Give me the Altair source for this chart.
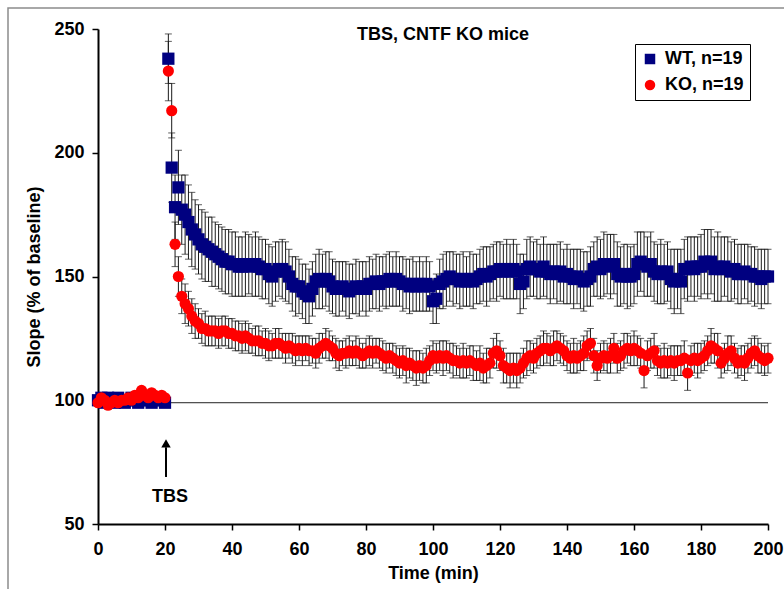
import altair as alt
import pandas as pd

# ---- data ----
time_min = [
    0, 1, 2, 3, 4, 5, 6, 7, 8, 9, 10, 11, 12, 13, 14, 15, 16, 17, 18, 19, 20,
    21, 22, 23, 24, 25, 26, 27, 28, 29, 30, 31, 32, 33, 34, 35, 36, 37, 38, 39, 40,
    41, 42, 43, 44, 45, 46, 47, 48, 49, 50, 51, 52, 53, 54, 55, 56, 57, 58, 59, 60,
    61, 62, 63, 64, 65, 66, 67, 68, 69, 70, 71, 72, 73, 74, 75, 76, 77, 78, 79, 80,
    81, 82, 83, 84, 85, 86, 87, 88, 89, 90, 91, 92, 93, 94, 95, 96, 97, 98, 99, 100,
    101, 102, 103, 104, 105, 106, 107, 108, 109, 110, 111, 112, 113, 114, 115, 116, 117, 118, 119, 120,
    121, 122, 123, 124, 125, 126, 127, 128, 129, 130, 131, 132, 133, 134, 135, 136, 137, 138, 139, 140,
    141, 142, 143, 144, 145, 146, 147, 148, 149, 150, 151, 152, 153, 154, 155, 156, 157, 158, 159, 160,
    161, 162, 163, 164, 165, 166, 167, 168, 169, 170, 171, 172, 173, 174, 175, 176, 177, 178, 179, 180,
    181, 182, 183, 184, 185, 186, 187, 188, 189, 190, 191, 192, 193, 194, 195, 196, 197, 198, 199, 200,
]

wt_mean = [
    100, 101, 99, 101, 100, 99, 101, 100, 99, 100, 101, 100, 99, 100, 101, 100, 99, 100, 101, 100, 99,
    238, 194, 178, 186, 177, 175, 172, 169, 167, 165, 163, 162, 161, 160, 159, 158, 157, 156, 156, 155,
    155, 154, 154, 155, 155, 154, 155, 154, 153, 153, 151, 150, 152, 153, 153, 152, 150, 147, 146, 146,
    144, 143, 142, 145, 148, 149, 148, 149, 148, 146, 145, 145, 146, 145, 144, 145, 146, 145, 146, 145,
    147, 147, 148, 147, 148, 148, 149, 148, 149, 148, 147, 147, 146, 147, 146, 147, 146, 147, 146, 140,
    141, 147, 148, 149, 150, 149, 149, 148, 149, 148, 149, 148, 149, 150, 151, 150, 151, 152, 152, 153,
    152, 153, 152, 153, 152, 147, 148, 153, 154, 153, 153, 152, 154, 152, 151, 152, 151, 152, 150, 151,
    150, 149, 150, 149, 148, 149, 150, 153, 154, 153, 155, 155, 154, 155, 151, 150, 151, 150, 150, 151,
    155, 156, 155, 154, 155, 152, 151, 152, 151, 152, 149, 148, 149, 148, 153, 153, 154, 153, 154, 154,
    156, 155, 156, 153, 154, 153, 154, 153, 152, 153, 151, 151, 152, 151, 151, 150, 150, 149, 150, 150,
]

wt_sem = [
    1.5, 1.2, 1.0, 1.3, 1.1, 1.0, 1.2, 1.1, 0.9, 1.0, 1.2, 1.1, 1.0, 1.3, 1.2, 1.0, 1.1, 1.2, 1.0, 1.1, 1.3,
    10, 14, 13, 15, 14, 16, 15, 15, 14, 14, 14, 14, 13, 14, 13, 13, 13, 13, 13, 13,
    13, 12, 12, 13, 12, 12, 13, 12, 12, 12, 12, 12, 12, 11, 12, 12, 11, 11, 12, 11,
    11, 12, 11, 11, 11, 12, 11, 11, 12, 11, 11, 11, 10, 11, 11, 10, 11, 11, 10, 11,
    11, 10, 11, 11, 10, 11, 11, 10, 11, 10, 11, 10, 11, 11, 10, 11, 10, 11, 10, 9,
    10, 10, 11, 11, 10, 11, 10, 11, 11, 10, 11, 11, 10, 11, 11, 12, 11, 11, 12, 11,
    11, 12, 11, 12, 11, 12, 11, 12, 12, 11, 12, 11, 12, 11, 12, 11, 12, 12, 11, 12,
    11, 12, 11, 12, 12, 11, 12, 11, 12, 12, 13, 12, 13, 12, 13, 12, 12, 13, 12, 12,
    13, 12, 13, 12, 13, 12, 12, 13, 12, 12, 12, 13, 12, 13, 12, 13, 12, 13, 12, 13,
    13, 14, 13, 13, 14, 13, 12, 13, 12, 12, 12, 12, 11, 12, 11, 12, 11, 12, 11, 11,
]

ko_mean = [
    99, 101, 100, 98, 99, 100, 99, 100, 100, 101, 100, 102, 101, 104, 102, 101, 103, 102, 101, 102, 101,
    233, 217, 163, 150, 142, 139, 137, 134, 132, 131, 129, 129, 128, 128, 128, 127, 128, 128, 127, 127,
    126, 126, 125, 126, 125, 124, 124, 124, 123, 123, 122, 122, 123, 123, 122, 121, 122, 121, 120, 121,
    120, 121, 120, 120, 119, 121, 122, 123, 122, 121, 119, 118, 119, 119, 120, 119, 120, 119, 118, 119,
    120, 119, 120, 119, 118, 117, 118, 117, 116, 115, 116, 114, 115, 114, 113, 114, 113, 114, 116, 118,
    117, 118, 117, 118, 117, 116, 116, 115, 116, 115, 116, 115, 114, 115, 113, 114, 115, 119, 120, 118,
    114, 113, 112, 113, 112, 113, 115, 117, 118, 117, 119, 120, 121, 121, 120, 121, 122, 121, 120, 118,
    117, 118, 117, 118, 119, 122, 123, 118, 114, 117, 118, 117, 118, 121, 117, 118, 120, 121, 120, 121,
    120, 119, 112, 118, 119, 120, 116, 115, 116, 115, 116, 115, 116, 116, 117, 111, 116, 117, 116, 117,
    118, 120, 122, 121, 120, 115, 117, 119, 120, 117, 115, 116, 115, 117, 119, 120, 118, 117, 116, 117,
]

ko_sem = [
    1.0, 1.2, 1.1, 1.0, 0.9, 1.1, 1.0, 1.2, 1.1, 1.0, 1.2, 1.3, 1.1, 1.4, 1.2, 1.1, 1.3, 1.2, 1.1, 1.0, 1.2,
    12, 11, 9, 8, 7, 8, 7, 7, 7, 6, 6, 7, 6, 6, 6, 6, 6, 6, 6, 6,
    6, 6, 6, 6, 6, 5, 6, 6, 5, 6, 6, 5, 6, 6, 5, 6, 5, 6, 6, 5,
    6, 5, 6, 5, 6, 6, 5, 6, 6, 5, 6, 6, 5, 6, 6, 5, 6, 6, 5, 6,
    6, 6, 5, 6, 6, 6, 5, 6, 6, 6, 6, 7, 6, 6, 7, 6, 6, 7, 6, 6,
    6, 6, 7, 6, 6, 7, 6, 6, 7, 6, 6, 7, 6, 7, 6, 7, 6, 6, 7, 6,
    7, 6, 7, 6, 7, 6, 6, 7, 6, 6, 6, 6, 7, 6, 6, 7, 6, 6, 6, 6,
    6, 7, 6, 6, 7, 6, 6, 7, 6, 6, 6, 6, 7, 6, 6, 6, 7, 6, 6, 7,
    6, 6, 7, 6, 6, 7, 6, 6, 7, 6, 6, 7, 6, 6, 7, 7, 6, 6, 7, 6,
    6, 6, 7, 6, 7, 6, 6, 7, 6, 6, 6, 6, 7, 6, 6, 6, 7, 6, 6, 6,
]

series_names = ["WT, n=19", "KO, n=19"]
series_colors = ["#000080", "#FF0000"]
series_shapes = ["square", "circle"]

title_text = "TBS, CNTF KO mice"
x_ticks = [0, 20, 40, 60, 80, 100, 120, 140, 160, 180, 200]
y_ticks = [50, 100, 150, 200, 250]

# ---- build tables ----
rows = []
for name, means, sems in [(series_names[0], wt_mean, wt_sem), (series_names[1], ko_mean, ko_sem)]:
    for t, m, s in zip(time_min, means, sems):
        rows.append({"t": t, "v": m, "lo": m - s, "hi": m + s, "series": name})
df = pd.DataFrame(rows)
df_wt = df[df.series == series_names[0]]
df_ko = df[df.series == series_names[1]]

FONT = "Liberation Sans"
ERR = "#1a1a1a"

xs = alt.Scale(domain=[0, 200], nice=False, zero=False)
ys = alt.Scale(domain=[50, 250], nice=False, zero=False)

x_enc = alt.X("t:Q", scale=xs,
              axis=alt.Axis(values=x_ticks, title="Time (min)", grid=False))
y_enc = alt.Y("v:Q", scale=ys,
              axis=alt.Axis(values=y_ticks, title="Slope (% of baseline)", grid=False))

base = alt.Chart(df)

err_rule = base.mark_rule(color=ERR, strokeWidth=1).encode(
    x=alt.X("t:Q", scale=xs), y=alt.Y("lo:Q", scale=ys), y2="hi:Q")
cap_hi = base.mark_tick(color=ERR, orient="horizontal", size=7, thickness=1).encode(
    x=alt.X("t:Q", scale=xs), y=alt.Y("hi:Q", scale=ys))
cap_lo = base.mark_tick(color=ERR, orient="horizontal", size=7, thickness=1).encode(
    x=alt.X("t:Q", scale=xs), y=alt.Y("lo:Q", scale=ys))

# baseline reference line
ref = alt.Chart(pd.DataFrame({"x0": [0], "x1": [200], "yv": [99]})).mark_rule(
    color="#222222", strokeWidth=1).encode(
    x=alt.X("x0:Q", scale=xs), x2="x1:Q", y=alt.Y("yv:Q", scale=ys))

color_scale = alt.Scale(domain=series_names, range=series_colors)
shape_scale = alt.Scale(domain=series_names, range=series_shapes)
legend = alt.Legend(title=None, orient="none", legendX=537, legendY=15,
                    fillColor="white", strokeColor="black", padding=6,
                    rowPadding=8, labelFontSize=18, labelFont=FONT,
                    labelFontWeight="bold", labelColor="black", labelOffset=6,
                    symbolSize=110, symbolStrokeWidth=0, symbolOpacity=1)

pts_wt = alt.Chart(df_wt).mark_point(filled=True, opacity=1, size=150).encode(
    x=x_enc, y=y_enc,
    color=alt.Color("series:N", scale=color_scale, legend=legend),
    shape=alt.Shape("series:N", scale=shape_scale, legend=legend))
pts_ko = alt.Chart(df_ko).mark_point(filled=True, opacity=1, size=125).encode(
    x=alt.X("t:Q", scale=xs), y=alt.Y("v:Q", scale=ys),
    color=alt.Color("series:N", scale=color_scale, legend=legend),
    shape=alt.Shape("series:N", scale=shape_scale, legend=legend))

# annotations
ann_title = alt.Chart(pd.DataFrame({"x": [103], "y": [247.5], "txt": [title_text]})).mark_text(
    font=FONT, fontSize=18, fontWeight="bold", color="black", baseline="middle", align="center"
).encode(x=alt.X("x:Q", scale=xs), y=alt.Y("y:Q", scale=ys), text="txt:N")

arrow_shaft = alt.Chart(pd.DataFrame({"x": [20.3], "y0": [69], "y1": [81]})).mark_rule(
    color="black", strokeWidth=2).encode(
    x=alt.X("x:Q", scale=xs), y=alt.Y("y0:Q", scale=ys), y2="y1:Q")
arrow_head = alt.Chart(pd.DataFrame({"x": [20.3], "y": [82.6]})).mark_point(
    shape="triangle-up", filled=True, color="black", opacity=1, size=90).encode(
    x=alt.X("x:Q", scale=xs), y=alt.Y("y:Q", scale=ys))
ann_tbs = alt.Chart(pd.DataFrame({"x": [21.5], "y": [61], "txt": ["TBS"]})).mark_text(
    font=FONT, fontSize=18, fontWeight="bold", color="black", baseline="middle", align="center"
).encode(x=alt.X("x:Q", scale=xs), y=alt.Y("y:Q", scale=ys), text="txt:N")

frame = alt.Chart(pd.DataFrame({"a": [0]})).mark_rect(
    fill="white", fillOpacity=0, stroke="#8c8c8c", strokeWidth=1.5).encode(
    x=alt.value(-90), x2=alt.value(800), y=alt.value(-21), y2=alt.value(620))

chart = alt.layer(
    frame, ref, err_rule, cap_hi, cap_lo, pts_wt, pts_ko,
    ann_title, arrow_shaft, arrow_head, ann_tbs
).properties(
    width=670, height=495,
    autosize=alt.AutoSizeParams(type="none"),
    padding={"left": 98, "top": 29, "right": 16, "bottom": 65},
    background="white",
).configure_view(stroke=None).configure_axis(
    domainColor="black", domainWidth=2, tickColor="black", tickWidth=1.5, tickSize=6,
    labelFont=FONT, labelFontSize=18, labelFontWeight="bold", labelColor="black",
    titleFont=FONT, titleFontSize=18, titleFontWeight="bold", titleColor="black",
).configure_axisX(labelPadding=10, titlePadding=6, labelFlush=False
).configure_axisY(labelPadding=8, titlePadding=10)

chart.save("out.html", embed_options={"renderer": "svg", "actions": False})
